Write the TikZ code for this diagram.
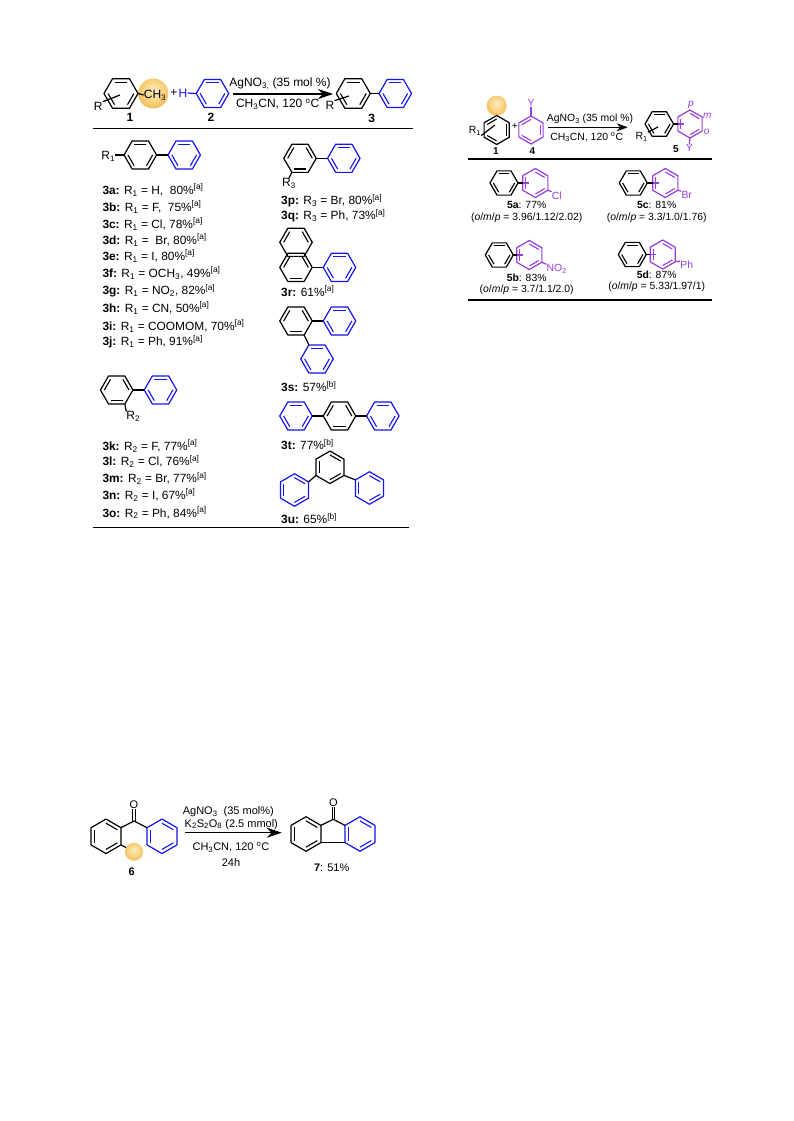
\documentclass[tikz,border=0pt]{standalone}
\usepackage{fontspec}
\setmainfont{Liberation Sans}
\usetikzlibrary{arrows.meta,shapes.geometric,calc}
\definecolor{hexblue}{RGB}{20,20,240}
\definecolor{hexviolet}{RGB}{150,60,220}
\definecolor{goldA}{RGB}{252,235,195}
\definecolor{goldB}{RGB}{249,210,125}
\definecolor{goldC}{RGB}{234,165,50}
\pgfdeclareradialshading{goldball}{\pgfpoint{0bp}{6bp}}{color(0bp)=(goldA); color(18bp)=(goldB); color(38bp)=(goldC); color(60bp)=(goldC)}
\tikzset{
  hex/.style={regular polygon,regular polygon sides=6,inner sep=0,outer sep=0,minimum size=32.5,line width=1.2,line join=round},
  pointy/.style={shape border rotate=30},
  bond/.style={line width=1.2},
  ball/.style={circle,shading=goldball,inner sep=0,outer sep=0},
  txt/.style={inner sep=0,font=\fontsize{12}{14}\selectfont},
  yield/.style={inner sep=0,anchor=west,font=\fontsize{11.9}{14}\selectfont},
  small/.style={inner sep=0,font=\fontsize{10.4}{12}\selectfont},
  mid/.style={inner sep=0,font=\fontsize{11}{13}\selectfont},
  rxn/.style={line width=1.1,-{Stealth[length=15,width=10]}},
  rule/.style={line width=1.1}
}
\newcommand{\dbA}{2/3,4/5,6/1}
\newcommand{\dbB}{1/2,3/4,5/6}
\newcommand{\dbC}{2/3,6/1}
\newcommand{\benz}[5][]{%
  \node[hex,draw=#3,#1] (#2) at (#4) {};
  \foreach \p/\q in #5 {\draw[color=#3,line width=1.1] ($(#2)!.76!(#2.corner \p)$) -- ($(#2)!.76!(#2.corner \q)$);}
}
\newcommand{\Rs}[1]{R\textsubscript{#1}}
\newcommand{\Ya}{\textsuperscript{[a]}}
\newcommand{\Yb}{\textsuperscript{[b]}}
\begin{document}
\begin{tikzpicture}[x=1pt,y=1pt]
  \useasboundingbox (0,0) rectangle (793,-1121);
  % main scheme
  \node[ball,minimum size=30] (ballA) at (153.3,-93.5) {};
  \benz[minimum size=34]{sm}{black}{121,-93.5}{\dbB}
  \node[txt] (CHa) at (155,-95) {CH\textsubscript{3}};
  \node[txt] (Ra) at (98.3,-106) {R};
  \coordinate (Rain) at (120,-95);
  \draw[bond] (Ra.north east) -- (Rain);
  \draw[bond] (sm.corner 6) -- (CHa.west);
  \node[txt] (plusa) at (174,-93) {+};
  \node[txt,text=hexblue] (Ha) at (183,-93) {H};
  \benz{sb}{hexblue}{212.5,-93.5}{\dbB}
  \draw[bond,hexblue] (Ha.east) -- (sb.corner 3);
  \node[txt,font=\fontsize{12}{14}\bfseries] (n1) at (130,-117.5) {1};
  \node[txt,font=\fontsize{12}{14}\bfseries] (n2) at (211,-117.5) {2};
  \node[txt,font=\fontsize{12}{14}\bfseries] (n3) at (371.7,-118) {3};
  \coordinate (arA) at (232.7,-94);
  \coordinate (arB) at (333,-94);
  \draw[rxn] (arA) -- (arB);
  \node[txt] (ta) at (280,-84) {AgNO\textsubscript{3,} (35 mol \%)};
  \node[txt] (tb) at (277.7,-104) {CH\textsubscript{3}CN, 120 \textsuperscript{o}C};
  \benz[minimum size=34]{pa}{black}{353.3,-93.5}{\dbB}
  \benz{pb}{hexblue}{395.3,-93.5}{\dbB}
  \draw[bond] (pa.corner 6) -- (pb.corner 3);
  \node[txt] (Rb) at (330,-105) {R};
  \coordinate (Rbin) at (349,-96);
  \draw[bond] (Rb.north east) -- (Rbin);
  \coordinate (ruleAa) at (93,-128.7);
  \coordinate (ruleAb) at (412.7,-128.7);
  \draw[rule] (ruleAa) -- (ruleAb);
  % 3a - 3j
  \benz{ca}{black}{140.3,-155}{\dbB}
  \benz{cb}{hexblue}{184.2,-155}{\dbB}
  \draw[bond] (ca.corner 6) -- (cb.corner 3);
  \node[txt] (Rc) at (108.3,-156) {\Rs{1}};
  \draw[bond] (Rc.east) ++(0,1) -- (ca.corner 3);
  \node[yield] (y3a) at (102.3,-190) {\textbf{3a:} \Rs{1} = H,\ \ 80\%\Ya};
  \node[yield] (y3b) at (102.3,-207) {\textbf{3b:} \Rs{1} = F,\ \ 75\%\Ya};
  \node[yield] (y3c) at (102.3,-224) {\textbf{3c:} \Rs{1} = Cl, 78\%\Ya};
  \node[yield] (y3d) at (102.3,-240) {\textbf{3d:} \Rs{1} =\ \ Br, 80\%\Ya};
  \node[yield] (y3e) at (102.3,-256) {\textbf{3e:} \Rs{1} = I, 80\%\Ya};
  \node[yield] (y3f) at (102.3,-273) {\textbf{3f:} \Rs{1} = OCH\textsubscript{3}, 49\%\Ya};
  \node[yield] (y3g) at (102.3,-291) {\textbf{3g:} \Rs{1} = NO\textsubscript{2}, 82\%\Ya};
  \node[yield] (y3h) at (102.3,-308) {\textbf{3h:} \Rs{1} = CN, 50\%\Ya};
  \node[yield] (y3i) at (102.3,-326) {\textbf{3i:} \Rs{1} = COOMOM, 70\%\Ya};
  \node[yield] (y3j) at (102.3,-342) {\textbf{3j:} \Rs{1} = Ph, 91\%\Ya};
  % 3k - 3o
  \benz{da}{black}{116.7,-390}{\dbA}
  \benz{db}{hexblue}{160.5,-390}{\dbB}
  \draw[bond] (da.corner 6) -- (db.corner 3);
  \node[txt] (Rd) at (133.3,-416.7) {\Rs{2}};
  \draw[bond] (da.corner 5) -- (Rd.north west);
  \node[yield] (y3k) at (102.3,-446) {\textbf{3k:} \Rs{2} = F, 77\%\Ya};
  \node[yield] (y3l) at (102.3,-461.7) {\textbf{3l:} \Rs{2} = Cl, 76\%\Ya};
  \node[yield] (y3m) at (102.3,-478.3) {\textbf{3m:} \Rs{2} = Br, 77\%\Ya};
  \node[yield] (y3n) at (102.3,-495) {\textbf{3n:} \Rs{2} = I, 67\%\Ya};
  \node[yield] (y3o) at (102.3,-512.7) {\textbf{3o:} \Rs{2} = Ph, 84\%\Ya};
  \coordinate (ruleBa) at (93,-527.7);
  \coordinate (ruleBb) at (409.3,-527.7);
  \draw[rule] (ruleBa) -- (ruleBb);
  % 3p - 3q
  \benz{ea}{black}{300,-158.3}{\dbA}
  \benz{eb}{hexblue}{343.8,-158.3}{\dbB}
  \draw[bond] (ea.corner 6) -- (eb.corner 3);
  \node[txt] (Re) at (289,-183.3) {\Rs{3}};
  \draw[bond] (ea.corner 4) -- (Re.north);
  \node[yield] (y3p) at (281,-201) {\textbf{3p:} \Rs{3} = Br, 80\%\Ya};
  \node[yield] (y3q) at (281,-215.7) {\textbf{3q:} \Rs{3} = Ph, 73\%\Ya};
  % 3r
  \benz{fa}{black}{296,-242.3}{\dbC}
  \benz{fb}{black}{296,-267.4}{\dbA}
  \benz{fc}{hexblue}{339.5,-267.4}{\dbB}
  \draw[bond] (fb.corner 6) -- (fc.corner 3);
  \node[yield] (y3r) at (281,-291) {\textbf{3r:} 61\%\Ya};
  % 3s
  \benz{ga}{black}{296,-321}{\dbA}
  \benz{gb}{hexblue}{339.5,-321}{\dbB}
  \draw[bond] (ga.corner 6) -- (gb.corner 3);
  \benz{gc}{hexblue}{317,-359}{\dbB}
  \draw[bond] (ga.corner 5) -- (gc.corner 2);
  \node[yield] (y3s) at (281,-386.7) {\textbf{3s:} 57\%\Yb};
  % 3t
  \benz{ha}{hexblue}{296,-416}{\dbB}
  \benz{hb}{black}{339.5,-416}{\dbA}
  \benz{hc}{hexblue}{382.8,-416}{\dbB}
  \draw[bond] (ha.corner 6) -- (hb.corner 3);
  \draw[bond] (hb.corner 6) -- (hc.corner 3);
  \node[yield] (y3t) at (281,-444.3) {\textbf{3t:} 77\%\Yb};
  % 3u
  \benz[pointy]{ia}{black}{330,-467.3}{\dbA}
  \benz[pointy]{ib}{hexblue}{294.5,-490}{\dbA}
  \benz[pointy]{ic}{hexblue}{369.5,-488}{\dbA}
  \draw[bond] (ia.corner 3) -- (ib.corner 6);
  \draw[bond] (ia.corner 5) -- (ic.corner 2);
  \node[yield] (y3u) at (281,-518.3) {\textbf{3u:} 65\%\Yb};
  % right scheme
  \node[ball,minimum size=20] (ballB) at (496.7,-105.7) {};
  \benz[pointy,minimum size=29]{ja}{black}{496.7,-130}{\dbB}
  \node[small] (Rj) at (475,-131) {\Rs{1}};
  \coordinate (Rjin) at (495,-125);
  \draw[bond] (Rj.south east) -- (Rjin);
  \node[small] (plusb) at (515,-126.7) {+};
  \benz[pointy,minimum size=28]{jb}{hexviolet}{531,-130}{\dbB}
  \node[small,text=hexviolet] (Yj) at (531,-103.3) {Y};
  \draw[bond,hexviolet] (Yj.south) -- (jb.corner 1);
  \node[small,font=\fontsize{10}{12}\bfseries] (m1) at (496,-150.7) {1};
  \node[small,font=\fontsize{10}{12}\bfseries] (m4) at (532.3,-150.7) {4};
  \coordinate (arC) at (548.3,-127.3);
  \coordinate (arD) at (627.7,-127.3);
  \draw[line width=1.1,-{Stealth[length=11,width=8]}] (arC) -- (arD);
  \node[small] (tc) at (590,-119) {AgNO\textsubscript{3} (35 mol \%)};
  \node[small] (td) at (586.7,-137.3) {CH\textsubscript{3}CN, 120 \textsuperscript{o}C};
  \benz[minimum size=28.5]{ka}{black}{659.3,-124}{\dbB}
  \benz[pointy,minimum size=28]{kb}{hexviolet}{690,-124}{\dbA}
  \coordinate (kbin) at (684,-124);
  \draw[bond] (ka.corner 6) -- (kb.west);
  \draw[bond,hexviolet] (kb.west) -- (kbin);
  \node[small] (Rk) at (641.7,-136.7) {\Rs{1}};
  \coordinate (Rkin) at (658,-127);
  \draw[bond] (Rk.north east) -- (Rkin);
  \node[small,text=hexviolet,font=\fontsize{10}{12}\itshape] (pk) at (691,-105) {p};
  \node[small,text=hexviolet,font=\fontsize{10}{12}\itshape] (mk) at (707.3,-115.7) {m};
  \node[small,text=hexviolet,font=\fontsize{10}{12}\itshape] (ok) at (706.7,-131.7) {o};
  \node[small,text=hexviolet] (Yk) at (689.3,-148.3) {Y};
  \draw[bond,hexviolet] (kb.corner 4) -- (Yk.north);
  \node[small,font=\fontsize{10}{12}\bfseries] (m5) at (676,-149) {5};
  \coordinate (ruleCa) at (468,-159);
  \coordinate (ruleCb) at (711.7,-159);
  \draw[rule] (ruleCa) -- (ruleCb);
  % 5a
  \benz[minimum size=28]{la}{black}{504,-183}{\dbB}
  \benz[pointy,minimum size=29]{lb}{hexviolet}{535.3,-183}{\dbA}
  \coordinate (lbin) at (528.5,-183);
  \draw[bond] (la.corner 6) -- (lb.west);
  \draw[bond,hexviolet] (lb.west) -- (lbin);
  \node[small,text=hexviolet] (Cl) at (556.7,-195.7) {Cl};
  \draw[bond,hexviolet] (lb.corner 5) -- (Cl.north west);
  \node[small] (c5a) at (526.7,-205) {\textbf{5a}: 77\%};
  \node[small] (r5a) at (526.7,-217.7) {(\textit{o}/\textit{m}/\textit{p} = 3.96/1.12/2.02)};
  % 5c
  \benz[minimum size=28]{na}{black}{633.3,-183}{\dbB}
  \benz[pointy,minimum size=29]{nb}{hexviolet}{665.3,-183}{\dbA}
  \coordinate (nbin) at (658.5,-183);
  \draw[bond] (na.corner 6) -- (nb.west);
  \draw[bond,hexviolet] (nb.west) -- (nbin);
  \node[small,text=hexviolet] (Br) at (686.7,-195) {Br};
  \draw[bond,hexviolet] (nb.corner 5) -- (Br.north west);
  \node[small] (c5c) at (656.7,-205) {\textbf{5c}: 81\%};
  \node[small] (r5c) at (656.7,-217.7) {(\textit{o}/\textit{m}/\textit{p} = 3.3/1.0/1.76)};
  % 5b
  \benz[minimum size=28]{oa}{black}{499.3,-255}{\dbB}
  \benz[pointy,minimum size=29]{ob}{hexviolet}{529.3,-255}{\dbA}
  \coordinate (obin) at (522.5,-255);
  \draw[bond] (oa.corner 6) -- (ob.west);
  \draw[bond,hexviolet] (ob.west) -- (obin);
  \node[small,text=hexviolet] (NO) at (556.7,-269) {NO\textsubscript{2}};
  \draw[bond,hexviolet] (ob.corner 5) -- (NO.north west);
  \node[small] (c5b) at (526.7,-277.7) {\textbf{5b}: 83\%};
  \node[small] (r5b) at (526.7,-290) {(\textit{o}/\textit{m}/\textit{p} = 3.7/1.1/2.0)};
  % 5d
  \benz[minimum size=28]{qa}{black}{632.3,-254.5}{\dbB}
  \benz[pointy,minimum size=29]{qb}{hexviolet}{662.7,-254.5}{\dbA}
  \coordinate (qbin) at (656,-254.5);
  \draw[bond] (qa.corner 6) -- (qb.west);
  \draw[bond,hexviolet] (qb.west) -- (qbin);
  \node[small,text=hexviolet] (Ph) at (686.7,-265) {Ph};
  \draw[bond,hexviolet] (qb.corner 5) -- (Ph.north west);
  \node[small] (c5d) at (656.7,-274.3) {\textbf{5d}: 87\%};
  \node[small] (r5d) at (656.7,-286.7) {(\textit{o}/\textit{m}/\textit{p} = 5.33/1.97/1)};
  \coordinate (ruleDa) at (468,-300);
  \coordinate (ruleDb) at (711.7,-300);
  \draw[rule] (ruleDa) -- (ruleDb);
  % bottom scheme
  \benz[pointy,minimum size=34.5]{sa}{black}{106,-836.3}{\dbA}
  \benz[pointy,minimum size=34.5]{sc}{hexblue}{162,-836.3}{\dbA}
  \coordinate (coA) at (134,-821);
  \draw[bond] (sa.corner 6) -- (coA);
  \draw[bond] (coA) -- (sc.corner 2);
  \node[mid] (OA) at (134,-804.5) {O};
  \draw[bond] ([xshift=-1.2]coA) -- ([xshift=-1.2]OA.south);
  \draw[bond] ([xshift=1.2]coA) -- ([xshift=1.2]OA.south);
  \node[ball,minimum size=18] (ballC) at (134,-851.7) {};
  \draw[bond] (sa.corner 5) -- (ballC);
  \node[mid,font=\fontsize{11}{13}\bfseries] (n6) at (131.7,-871.7) {6};
  \coordinate (arE) at (185,-832.7);
  \coordinate (arF) at (281.7,-832.7);
  \draw[rxn] (arE) -- (arF);
  \node[mid] (te) at (228.3,-811.7) {AgNO\textsubscript{3}\ \ (35 mol\%)};
  \node[mid] (tf) at (231.3,-824.3) {K\textsubscript{2}S\textsubscript{2}O\textsubscript{8} (2.5 mmol)};
  \node[mid] (tg) at (231,-847.3) {CH\textsubscript{3}CN, 120 \textsuperscript{o}C};
  \node[mid] (th) at (231,-862.7) {24h};
  \benz[pointy,minimum size=34.5]{ua}{black}{306,-834}{\dbA}
  \benz[pointy,minimum size=34.5]{ub}{hexblue}{360,-834}{\dbA}
  \coordinate (coB) at (333.3,-819.3);
  \draw[bond] (ua.corner 6) -- (coB);
  \draw[bond] (coB) -- (ub.corner 2);
  \draw[bond] (ua.corner 5) -- (ub.corner 3);
  \node[mid] (OB) at (333.3,-802.5) {O};
  \draw[bond] ([xshift=-1.2]coB) -- ([xshift=-1.2]OB.south);
  \draw[bond] ([xshift=1.2]coB) -- ([xshift=1.2]OB.south);
  \node[mid] (c7) at (331.7,-867.3) {\textbf{7}: 51\%};
\end{tikzpicture}
\end{document}
